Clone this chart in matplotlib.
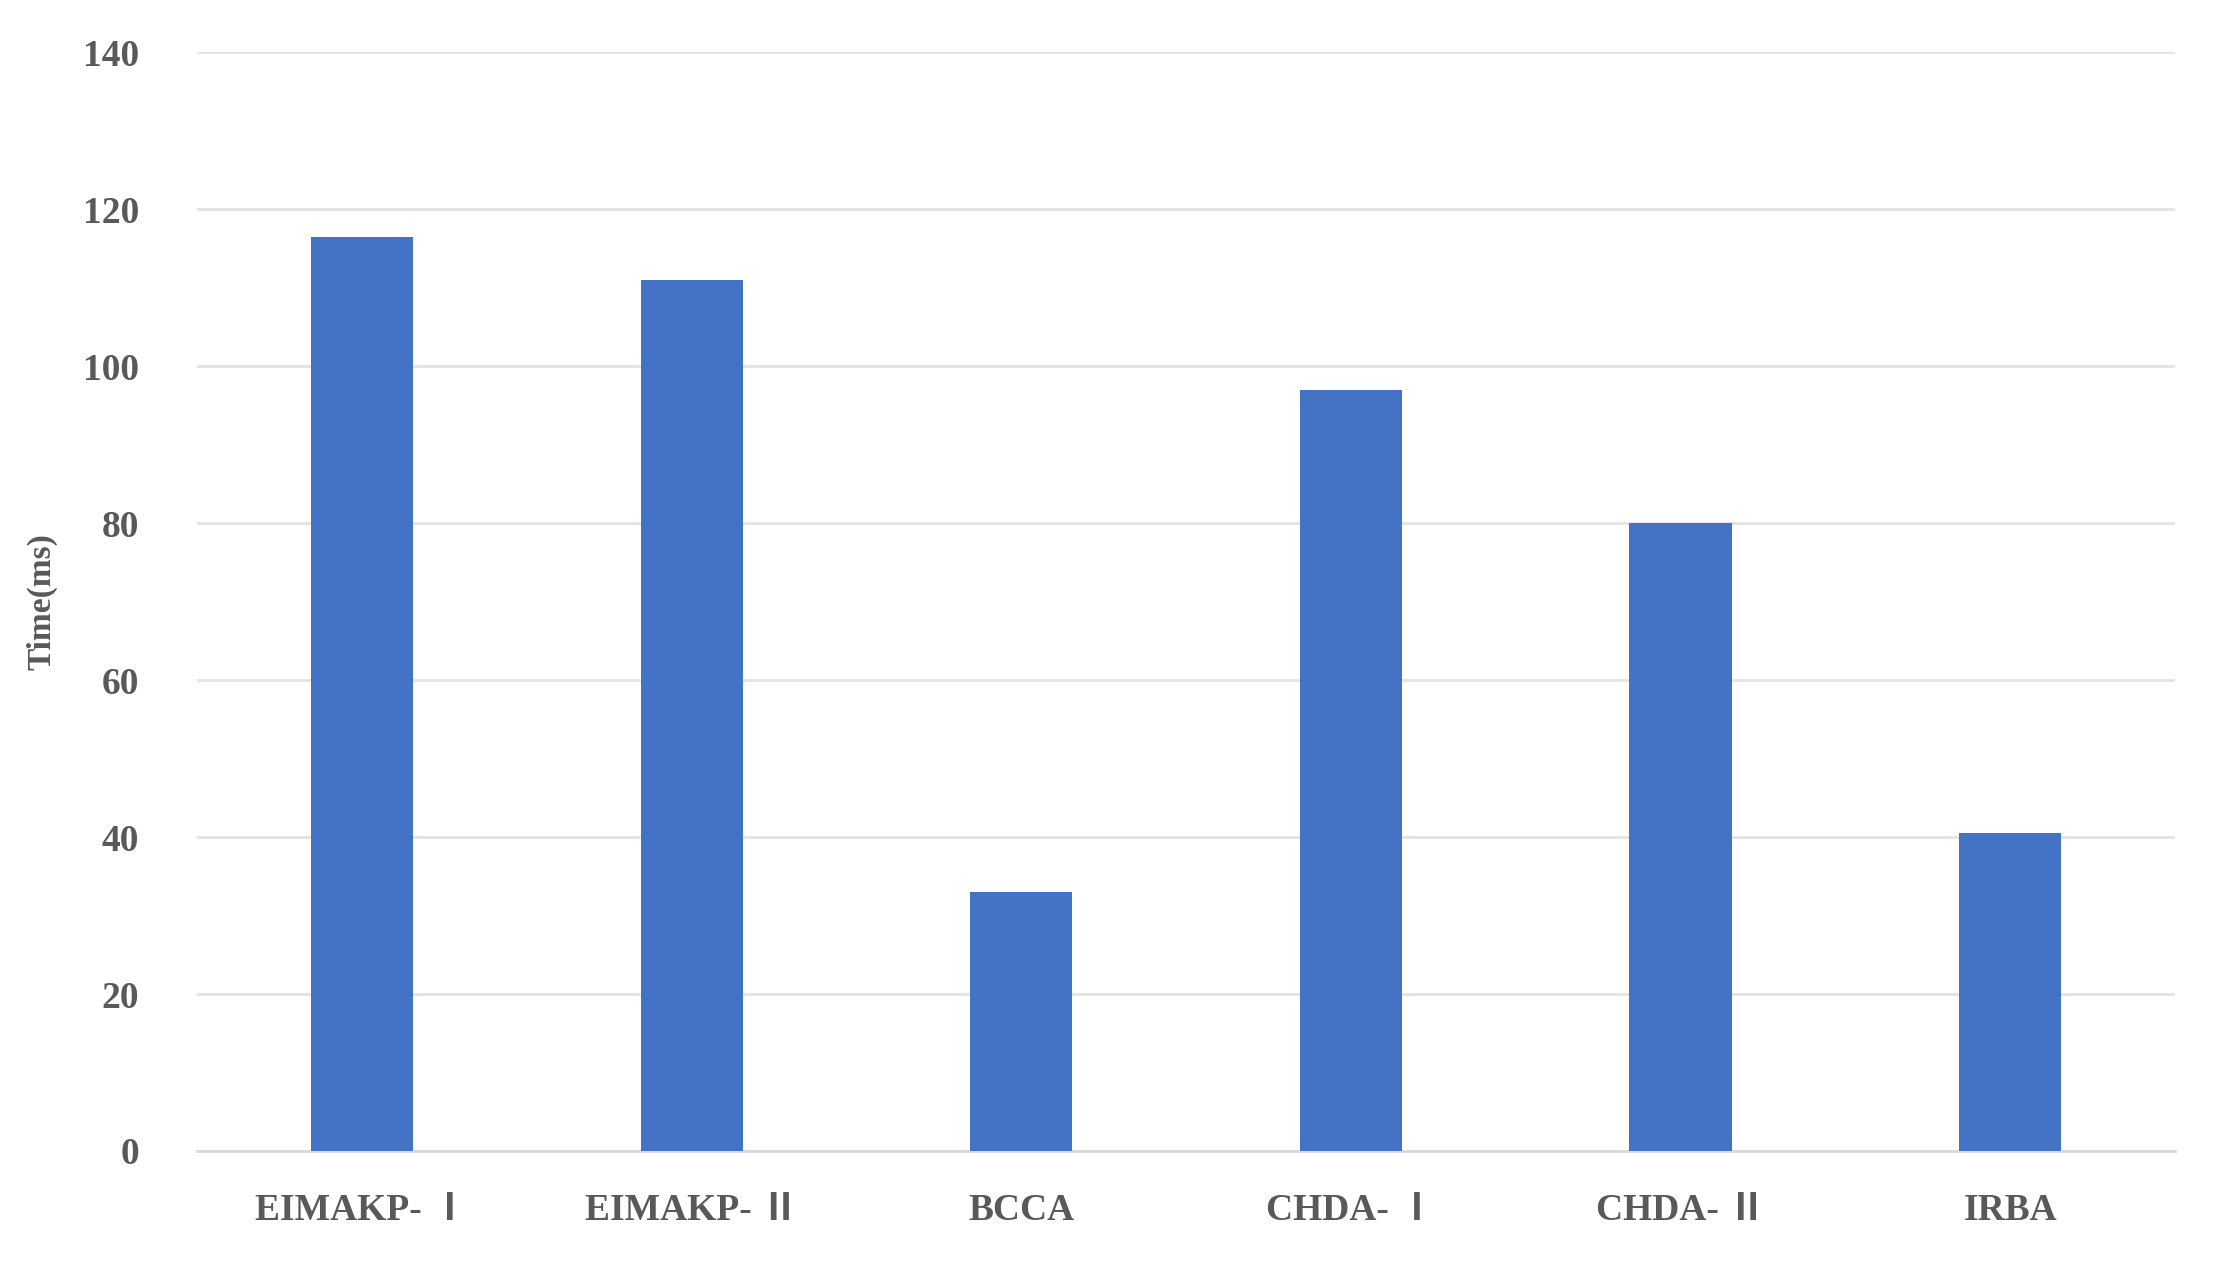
import matplotlib
matplotlib.use("Agg")
import matplotlib.pyplot as plt

categories = ["EIMAKP- Ⅰ", "EIMAKP- Ⅱ", "BCCA", "CHDA- Ⅰ", "CHDA- Ⅱ", "IRBA"]
times_ms = [116.5, 111, 33, 97, 80, 40.5]
y_ticks = [0, 20, 40, 60, 80, 100, 120, 140]

FONT = ["Liberation Serif", "Noto Sans CJK SC", "DejaVu Sans"]
GREY = "#595959"

fig = plt.figure(figsize=(22.17, 12.76), dpi=100)
ax = fig.add_axes([0.089, 0.098, 0.892, 0.861])
ax.bar(range(len(categories)), times_ms, width=0.31, color="#4472C4", zorder=3)
ax.set_xlim(-0.5, len(categories) - 0.5)
ax.set_ylim(0, 140)
ax.set_yticks(y_ticks)
ax.grid(axis="y", color="#e3e3e3", linewidth=2, zorder=0)
for side in ("top", "right", "left"):
    ax.spines[side].set_visible(False)
ax.spines["bottom"].set_color("#d9d9d9")
ax.spines["bottom"].set_linewidth(2)
ax.tick_params(length=0, pad=30)
ax.set_xticks(range(len(categories)))
ax.set_xticklabels(categories)
for lbl in ax.get_xticklabels() + ax.get_yticklabels():
    lbl.set_fontfamily(FONT)
    lbl.set_fontsize(27)
    lbl.set_fontweight("bold")
    lbl.set_color(GREY)
for lbl in ax.get_yticklabels():
    lbl.set_horizontalalignment("right")
ax.tick_params(axis="y", pad=42)
ax.set_ylabel("Time(ms)", family=FONT, fontsize=24, fontweight="bold", color=GREY, labelpad=18)
fig.savefig("out.png", dpi=100)
